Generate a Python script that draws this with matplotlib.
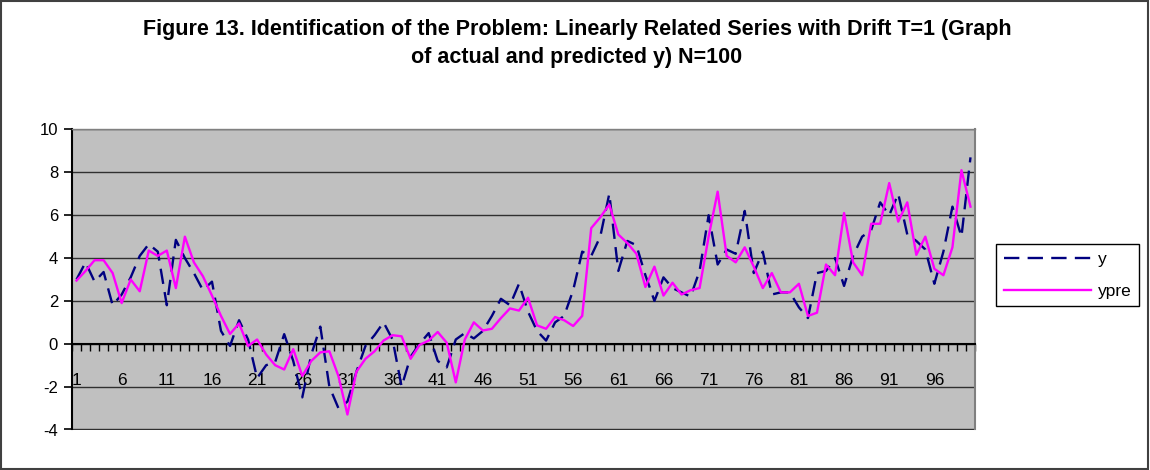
import matplotlib
matplotlib.use('Agg')
import matplotlib.pyplot as plt
from matplotlib.patches import Rectangle
from matplotlib.ticker import FixedLocator, NullFormatter

obs = list(range(1, 101))
y_actual = [3.0, 3.8, 2.9, 3.35, 1.8, 2.3, 3.1, 4.1, 4.65, 4.3,
            1.8, 4.85, 4.0, 3.3, 2.5, 2.9, 0.6, -0.1, 1.1, 0.2,
            -1.6, -1.0, -0.85, 0.45, -0.8, -2.5, -0.5, 0.8, -2.0, -3.0,
            -2.7, -1.3, -0.1, 0.4, 1.0, 0.2, -2.0, -0.6, 0.0, 0.5,
            -0.8, -1.1, 0.2, 0.5, 0.25, 0.6, 1.3, 2.1, 1.8, 2.8,
            1.5, 0.6, 0.15, 1.0, 1.3, 2.5, 4.3, 4.1, 5.0, 7.0,
            3.4, 4.8, 4.6, 3.2, 2.0, 3.1, 2.6, 2.4, 2.2, 3.4,
            6.0, 3.7, 4.4, 4.2, 6.2, 3.3, 4.3, 2.3, 2.4, 2.4,
            1.7, 1.2, 3.3, 3.4, 4.0, 2.7, 4.1, 5.0, 5.3, 6.6,
            6.0, 7.0, 5.1, 4.8, 4.4, 2.8, 4.3, 6.4, 5.0, 8.7]
y_pred = [2.95, 3.4, 3.9, 3.9, 3.3, 1.9, 3.0, 2.45, 4.35, 4.1,
          4.35, 2.6, 5.0, 3.8, 3.15, 2.25, 1.3, 0.46, 0.95, -0.1,
          0.2, -0.5, -1.0, -1.2, -0.25, -1.5, -0.8, -0.4, -0.35, -1.5,
          -3.3, -1.3, -0.7, -0.35, 0.15, 0.4, 0.35, -0.7, -0.05, 0.15,
          0.55, 0.05, -1.8, 0.2, 1.0, 0.62, 0.7, 1.2, 1.65, 1.55,
          2.15, 0.86, 0.7, 1.25, 1.1, 0.83, 1.3, 5.4, 5.9, 6.5,
          5.1, 4.7, 4.2, 2.65, 3.6, 2.25, 2.85, 2.3, 2.5, 2.6,
          5.0, 7.1, 4.1, 3.8, 4.5, 3.6, 2.6, 3.3, 2.4, 2.4,
          2.8, 1.3, 1.45, 3.7, 3.2, 6.1, 3.8, 3.2, 5.6, 5.6,
          7.5, 5.7, 6.6, 4.15, 5.0, 3.5, 3.2, 4.5, 8.1, 6.4]
y_ticks = [-4, -2, 0, 2, 4, 6, 8, 10]
x_label_pos = list(range(1, 101, 5))
x_labels = [str(i) for i in x_label_pos]
title_lines = ["Figure 13. Identification of the Problem: Linearly Related Series with Drift T=1 (Graph",
               "of actual and predicted y) N=100"]

plt.rcParams['font.family'] = ['Liberation Sans', 'DejaVu Sans']

fig = plt.figure(figsize=(11.5, 4.7), dpi=100)
fig.patch.set_facecolor('white')
fig.patches.append(Rectangle((0.001, 0.002), 0.997, 0.995, transform=fig.transFigure,
                             fill=False, edgecolor='#404040', linewidth=1.5))

ax = fig.add_axes([72/1150, 1 - 429.5/470, (975 - 72)/1150, (429.5 - 129.5)/470])
ax.set_facecolor('#C0C0C0')

for v in y_ticks:
    ax.axhline(v, color='#303030', linewidth=1.0, zorder=1)

ax.plot(obs, y_actual, color='#000080', linewidth=1.7, dashes=(6.5, 3.5), label='y', zorder=3)
ax.plot(obs, y_pred, color='#FF00FF', linewidth=1.7, label='ypre', zorder=4)

ax.set_xlim(0.5, 100.5)
ax.set_ylim(-4, 10)
ax.set_yticks(y_ticks)
ax.set_yticklabels([str(v) for v in y_ticks], fontsize=12)
ax.tick_params(axis='y', direction='out', length=6, width=1.2, pad=4, color='black')

ax.spines['bottom'].set_position(('data', 0))
ax.spines['bottom'].set_linewidth(1.5)
ax.spines['bottom'].set_color('black')
ax.spines['left'].set_linewidth(1.5)
ax.spines['left'].set_color('black')
ax.spines['right'].set_color('#808080')
ax.spines['right'].set_linewidth(1.5)
ax.spines['top'].set_color('#808080')
ax.spines['top'].set_linewidth(1.0)

ax.xaxis.set_major_locator(FixedLocator([k + 0.5 for k in range(0, 101)]))
ax.xaxis.set_major_formatter(NullFormatter())
ax.xaxis.set_minor_locator(FixedLocator(x_label_pos))
ax.set_xticklabels(x_labels, minor=True, fontsize=12.5)
ax.tick_params(axis='x', which='major', direction='out', length=5, width=1.0, color='black')
ax.tick_params(axis='x', which='minor', length=0, pad=21)

fig.text(577/1150, 1 - 30/470, title_lines[0], ha='center', va='center',
         fontsize=15.5, fontweight='bold')
fig.text(577/1150, 1 - 58/470, title_lines[1], ha='center', va='center',
         fontsize=15.5, fontweight='bold')

leg = ax.legend(loc='upper left', bbox_to_anchor=(996/1150, 1 - 244/470),
                bbox_transform=fig.transFigure, borderaxespad=0, fontsize=12.5,
                handlelength=5.0, handletextpad=0.4, labelspacing=0.95,
                borderpad=0.45, fancybox=False, framealpha=1)
leg.get_frame().set_edgecolor('black')
leg.get_frame().set_linewidth(1.0)

fig.savefig('out.png', dpi=100)
